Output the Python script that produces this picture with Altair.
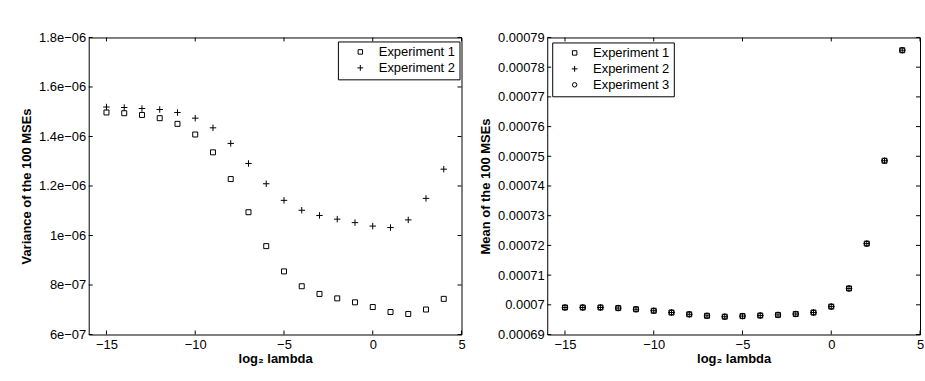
import altair as alt
import pandas as pd

# ---- data ----
log2_lambda = [-15, -14, -13, -12, -11, -10, -9, -8, -7, -6, -5, -4, -3, -2, -1, 0, 1, 2, 3, 4]

var_exp1 = [1.497e-6, 1.494e-6, 1.487e-6, 1.474e-6, 1.451e-6, 1.408e-6, 1.336e-6, 1.228e-6,
            1.094e-6, 0.957e-6, 0.855e-6, 0.795e-6, 0.764e-6, 0.746e-6, 0.730e-6, 0.711e-6,
            0.691e-6, 0.683e-6, 0.701e-6, 0.744e-6]
var_exp2 = [1.519e-6, 1.517e-6, 1.513e-6, 1.509e-6, 1.497e-6, 1.474e-6, 1.435e-6, 1.372e-6,
            1.291e-6, 1.209e-6, 1.142e-6, 1.102e-6, 1.081e-6, 1.066e-6, 1.052e-6, 1.038e-6,
            1.032e-6, 1.063e-6, 1.150e-6, 1.268e-6]

mean_exp1 = [0.0006991, 0.0006991, 0.0006991, 0.0006989, 0.0006985, 0.0006980, 0.0006974, 0.0006968,
             0.0006963, 0.0006960, 0.0006962, 0.0006964, 0.0006966, 0.0006969, 0.0006974, 0.0006994,
             0.0007055, 0.0007206, 0.0007485, 0.0007857]
mean_exp2 = [0.0006991, 0.0006991, 0.0006991, 0.0006989, 0.0006985, 0.0006980, 0.0006974, 0.0006968,
             0.0006963, 0.0006960, 0.0006962, 0.0006964, 0.0006966, 0.0006969, 0.0006974, 0.0006994,
             0.0007055, 0.0007206, 0.0007485, 0.0007857]
mean_exp3 = [0.0006991, 0.0006991, 0.0006991, 0.0006989, 0.0006985, 0.0006980, 0.0006974, 0.0006968,
             0.0006963, 0.0006960, 0.0006962, 0.0006964, 0.0006966, 0.0006969, 0.0006974, 0.0006994,
             0.0007055, 0.0007206, 0.0007485, 0.0007857]

series_names = ["Experiment 1", "Experiment 2", "Experiment 3"]

x_domain = [-16, 5]
x_ticks = [-15, -10, -5, 0, 5]

var_domain = [6e-7, 1.8e-6]
var_ticks = [6e-7, 8e-7, 1e-6, 1.2e-6, 1.4e-6, 1.6e-6, 1.8e-6]
var_tick_labels = ["6e\u221207", "8e\u221207", "1e\u221206", "1.2e\u221206", "1.4e\u221206", "1.6e\u221206", "1.8e\u221206"]

mean_domain = [0.00069, 0.00079]
mean_ticks = [0.00069, 0.00070, 0.00071, 0.00072, 0.00073, 0.00074, 0.00075, 0.00076, 0.00077, 0.00078, 0.00079]
mean_tick_labels = ["0.00069", "0.0007", "0.00071", "0.00072", "0.00073", "0.00074",
                    "0.00075", "0.00076", "0.00077", "0.00078", "0.00079"]

PLUS = "M-1.3,0H1.3M0,-1.3V1.3"
shape_range = ["square", PLUS, "circle"]

W, H = 374, 298
TICK = 4
FONT = "Liberation Sans"


def long_df(series_lists):
    rows = []
    for name, vals in series_lists:
        for lam, v in zip(log2_lambda, vals):
            rows.append({"lam": lam, "value": v, "series": name})
    return pd.DataFrame(rows)


def label_expr(ticks, labels):
    arr = "[" + ",".join("'" + l + "'" for l in labels) + "]"
    step = ticks[1] - ticks[0]
    return f"{arr}[round((datum.value - {ticks[0]!r}) / {step!r})]"


def panel(df, ydomain, yticks, ylabels, ytitle, names, legend_x, legend_y):
    xs = alt.Scale(domain=x_domain, nice=False, zero=False)
    ys = alt.Scale(domain=ydomain, nice=False, zero=False)
    n = len(names)
    main = alt.Chart(df).mark_point(filled=False, stroke="black", strokeWidth=1, opacity=1, size=25).encode(
        x=alt.X("lam:Q", scale=xs, axis=alt.Axis(
            orient="bottom", values=x_ticks, ticks=False, tickSize=0, grid=False,
            domain=False, labelPadding=4, labelFontSize=13, labelFont=FONT, labelColor="black",
            labelFlush=False, labelOverlap=False,
            title="log\u2082 lambda", titleFont=FONT, titleFontSize=13, titleFontWeight="bold",
            titleColor="black", titleY=18, titleBaseline="top")),
        y=alt.Y("value:Q", scale=ys, axis=alt.Axis(
            orient="left", values=yticks, ticks=False, tickSize=0, grid=False,
            domain=False, labelPadding=3, labelFontSize=13, labelFont=FONT, labelColor="black",
            labelFlush=False, labelOverlap=False, labelExpr=label_expr(yticks, ylabels),
            title=ytitle, titleFont=FONT, titleFontSize=13, titleFontWeight="bold",
            titleColor="black", titleX=-62, titleBaseline="middle")),
        shape=alt.Shape("series:N", scale=alt.Scale(domain=names, range=shape_range[:n]),
                        legend=alt.Legend(
                            title=None, orient="none", legendX=legend_x, legendY=legend_y,
                            strokeColor="black", fillColor="white", padding=4,
                            symbolSize=20, symbolStrokeColor="black", symbolStrokeWidth=1,
                            symbolFillColor="transparent", symbolOffset=12, labelOffset=12,
                            labelFont=FONT, labelFontSize=13, labelColor="black", rowPadding=2)),
    )
    xt = pd.DataFrame({"t": x_ticks})
    yt = pd.DataFrame({"t": yticks})
    x_bottom = alt.Chart(xt).mark_rule(color="black", strokeWidth=1).encode(
        x=alt.X("t:Q", scale=xs, axis=None), y=alt.value(H), y2=alt.value(H - TICK))
    x_top = alt.Chart(xt).mark_rule(color="black", strokeWidth=1).encode(
        x=alt.X("t:Q", scale=xs, axis=None), y=alt.value(0), y2=alt.value(TICK))
    y_left = alt.Chart(yt).mark_rule(color="black", strokeWidth=1).encode(
        y=alt.Y("t:Q", scale=ys, axis=None), x=alt.value(0), x2=alt.value(TICK))
    y_right = alt.Chart(yt).mark_rule(color="black", strokeWidth=1).encode(
        y=alt.Y("t:Q", scale=ys, axis=None), x=alt.value(W), x2=alt.value(W - TICK))
    return alt.layer(main, x_bottom, x_top, y_left, y_right).resolve_axis(
        x="independent", y="independent").properties(width=W, height=H)


var_df = long_df([(series_names[0], var_exp1), (series_names[1], var_exp2)])
mean_df = long_df([(series_names[0], mean_exp1), (series_names[1], mean_exp2),
                   (series_names[2], mean_exp3)])

left = panel(var_df, var_domain, var_ticks, var_tick_labels,
             "Variance of the 100 MSEs", series_names[:2], 250, 4)
right = panel(mean_df, mean_domain, mean_ticks, mean_tick_labels,
              "Mean of the 100 MSEs", series_names, 5, 5)

chart = alt.hconcat(left, right, spacing=12).resolve_scale(
    shape="independent"
).properties(
    padding={"left": 20, "top": 30, "right": 0, "bottom": 0},
    background="white",
).configure(font=FONT).configure_view(stroke="black", strokeWidth=1)

chart.save("out.html", embed_options={"renderer": "svg", "actions": False})
